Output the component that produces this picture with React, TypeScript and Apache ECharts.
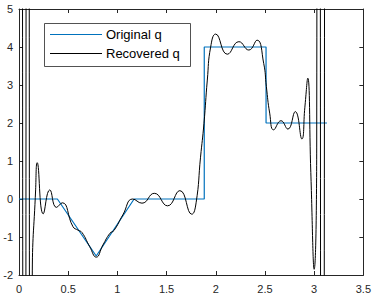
import React, { useEffect, useRef } from "react";
import * as echarts from "echarts";

const originalX = [0, 0.39, 0.785, 1.17, 1.883, 1.883, 2.511, 2.511, 3.13];
const originalY = [0, 0, -1.5, 0, 0, 4, 4, 2, 2];

const recoveredX = [
  0, 0.037, 0.054, 0.071, 0.088, 0.105, 0.12, 0.135, 0.169, 0.185, 0.246, 0.313,
  0.38, 0.44, 0.549, 0.6, 0.64, 0.718, 0.785, 0.853, 0.925, 0.965, 1.055, 1.156,
  1.25, 1.375, 1.51, 1.635, 1.756, 1.8, 1.845, 1.88, 1.914, 1.948, 1.999, 2.117,
  2.235, 2.336, 2.42, 2.487, 2.514, 2.548, 2.588, 2.663, 2.733, 2.808, 2.875,
  2.905, 2.935, 2.966, 3.0, 3.026, 3.045, 3.064, 3.084, 3.104, 3.1416,
];
const recoveredY = [
  80, 1.5, -80, 1.5, 80, 1.5, -80, -2.1, 0.24, 0.955, -0.39, 0.24,
  -0.22, -0.1, -0.73, -0.82, -0.88, -1.25, -1.53, -1.21, -0.9, -0.83, -0.42, 0.0,
  -0.11, 0.15, -0.18, 0.22, -0.4, -0.1, 1.1, 1.99, 3.13, 4.0, 4.34, 3.81,
  4.14, 3.92, 4.18, 3.57, 2.96, 2.26, 1.82, 2.06, 1.84, 2.3, 1.58,
  2.4, 3.18, 0.7, -1.85, 1.5, 80, 1.5, -80, 1.5, 80,
];

const seriesNames = ["Original q", "Recovered q"];
const seriesColors = ["#0072BD", "#000000"];

const FONT = "Liberation Sans, Arial, Helvetica, sans-serif";
const AXIS = "#262626";

export default function App() {
  const ref = useRef<HTMLDivElement>(null);
  useEffect(() => {
    if (!ref.current) return;
    const chart = echarts.init(ref.current, null, { renderer: "svg" });
    const axisLine = { show: true, onZero: false, lineStyle: { color: AXIS, width: 1 } };
    const tick = { show: true, inside: true, length: 4, lineStyle: { color: AXIS, width: 1 } };
    const label = { color: AXIS, fontSize: 11, fontFamily: FONT };

    const legendBox = { x: 44, y: 23, w: 146, h: 43 };
    const legendRows = [34.5, 53.5];
    const legendGraphic = [
      {
        type: "rect",
        z: 100,
        shape: { x: legendBox.x + 0.5, y: legendBox.y + 0.5, width: legendBox.w, height: legendBox.h },
        style: { fill: "#fff", stroke: AXIS, lineWidth: 0.8 },
      },
      ...seriesNames.flatMap((name, i) => [
        {
          type: "line",
          z: 101,
          shape: { x1: 50, y1: legendRows[i], x2: 102, y2: legendRows[i] },
          style: { stroke: seriesColors[i], lineWidth: i === 0 ? 1.2 : 1 },
        },
        {
          type: "text",
          z: 101,
          x: 106,
          y: legendRows[i],
          style: {
            text: name,
            fill: "#000",
            fontSize: 13,
            fontFamily: FONT,
            verticalAlign: "middle",
            align: "left",
          },
        },
      ]),
    ];

    chart.setOption({
      animation: false,
      backgroundColor: "#fff",
      grid: { left: 19, right: 9, top: 9, bottom: 24, containLabel: false },
      xAxis: [
        {
          type: "value", min: 0, max: 3.5, interval: 0.5, position: "bottom",
          axisLine, axisTick: tick, splitLine: { show: false },
          axisLabel: { ...label, margin: 8 },
        },
        {
          type: "value", min: 0, max: 3.5, interval: 0.5, position: "top",
          axisLine, axisTick: tick, splitLine: { show: false },
          axisLabel: { show: false },
        },
      ],
      yAxis: [
        {
          type: "value", min: -2, max: 5, interval: 1, position: "left",
          axisLine, axisTick: tick, splitLine: { show: false },
          axisLabel: { ...label, margin: 6 },
        },
        {
          type: "value", min: -2, max: 5, interval: 1, position: "right",
          axisLine, axisTick: tick, splitLine: { show: false },
          axisLabel: { show: false },
        },
      ],
      graphic: legendGraphic,
      series: [
        {
          name: seriesNames[0],
          type: "line",
          data: originalX.map((x, i) => [x, originalY[i]]),
          symbol: "none",
          color: seriesColors[0],
          lineStyle: { color: seriesColors[0], width: 1.2 },
          clip: true,
        },
        {
          name: seriesNames[1],
          type: "line",
          data: recoveredX.map((x, i) => [x, recoveredY[i]]),
          symbol: "none",
          smooth: 0.5,
          color: seriesColors[1],
          lineStyle: { color: seriesColors[1], width: 1 },
          clip: true,
        },
      ],
    });
    return () => chart.dispose();
  }, []);
  return (
    <div
      ref={ref}
      style={{ position: "fixed", left: 0, top: 0, width: 374, height: 299, background: "#fff" }}
    />
  );
}
